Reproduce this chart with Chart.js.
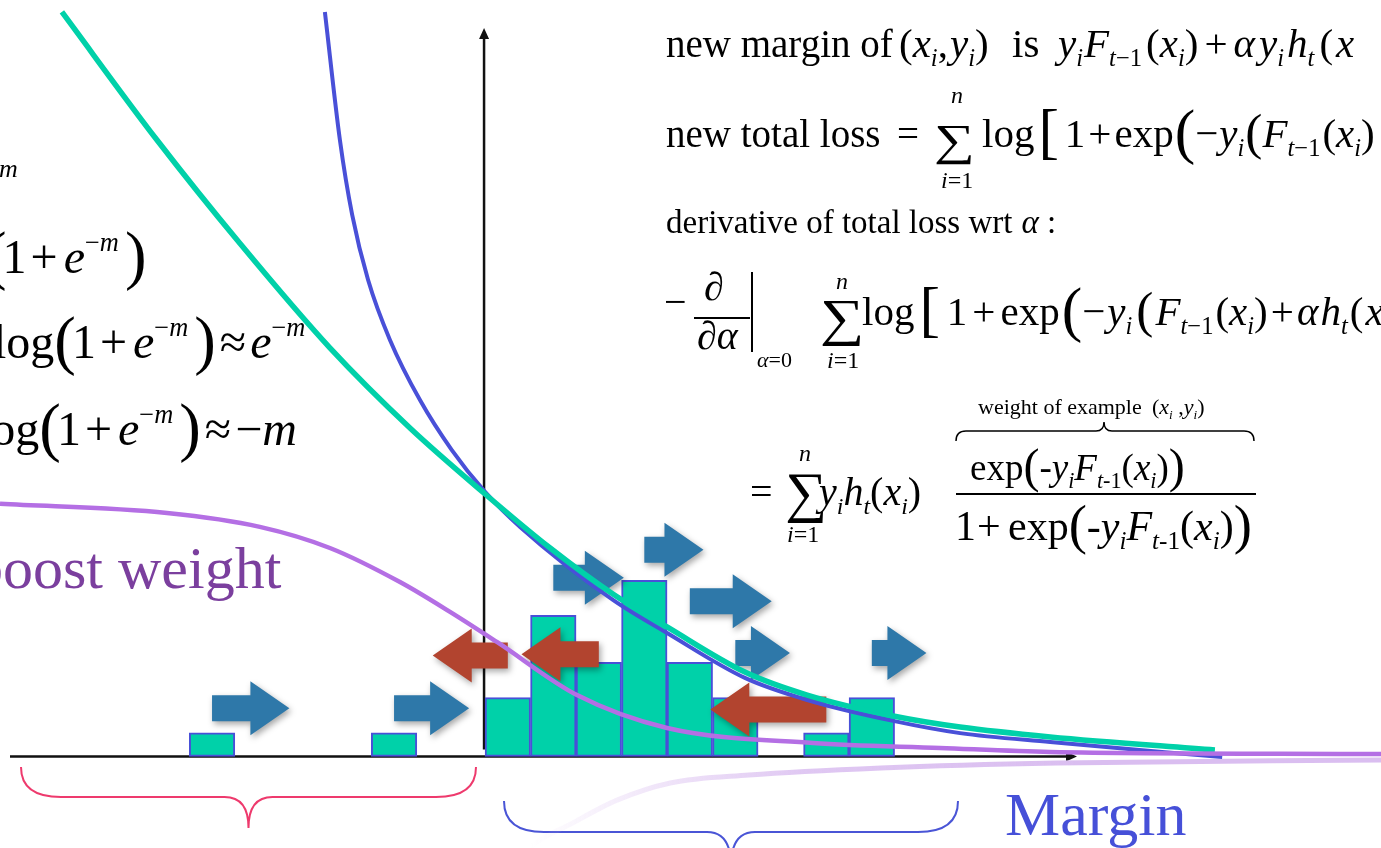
<!DOCTYPE html>
<html>
<head>
<meta charset="utf-8">
<script src="https://cdn.jsdelivr.net/npm/chart.js@4.4.1/dist/chart.umd.min.js"></script>
<style>
  html, body { margin: 0; padding: 0; background: #fff; overflow: hidden; }
  canvas { display: block; }
</style>
</head>
<body>
<canvas id="chart" width="1381" height="848"></canvas>
<script>
// histogram of margins (bin centre, count)
const binCentres = [-6, -2, 0.5, 1.5, 2.5, 3.5, 4.5, 5.5, 7.5, 8.5];
const binCounts = [1, 1, 2.5, 6, 4, 7.5, 4, 2.5, 1, 2.5];

// logistic loss curve
const logLossX = [-9.3, -7.21, -5.38, -3.41, -1.65, 0, 1.43, 2.81, 4.0, 5.71, 7.08, 8.97, 10.44, 12.42, 16.04];
const logLossY = [31.69, 26.24, 21.82, 17.39, 13.98, 11.17, 8.87, 6.91, 5.51, 3.59, 2.61, 1.72, 1.25, 0.83, 0.27];

// exponential loss curve
const expLossX = [-3.52, -3.19, -2.92, -2.57, -2.09, -1.43, -0.73, 0, 0.77, 2.81, 4.0, 5.71, 7.08, 8.97, 10.44, 12.42, 16.2];
const expLossY = [31.69, 26.24, 23.05, 20.28, 17.73, 15.17, 13.04, 11.26, 9.77, 6.66, 5.25, 3.34, 2.4, 1.51, 0.99, 0.61, -0.03];

// example weight curve
const weightX = [-10.66, -6.99, -4.95, -3.41, -1.87, -0.77, 0.26, 2.02, 4.0, 7.21, 10.0, 12.42, 19.69];
const weightY = [10.75, 10.36, 9.77, 8.87, 7.42, 6.15, 4.87, 2.61, 1.21, 0.57, 0.36, 0.19, 0.1];

// faded mirror of the weight curve under the axis
const mirrorX = [0.75, 0.97, 1.93, 2.9, 4.07, 5.8, 8.7, 12.57, 19.69];
const mirrorY = [-4.4, -3.9, -2.83, -1.86, -1.13, -0.79, -0.49, -0.28, -0.15];

// how examples move: start margin, new margin, drawing level
const arrowFrom = [-6, -2, 1.5, 3.5, 4.5, 5.5, 8.5, 0.5, 2.5, 7.5];
const arrowTo = [-4.3, -0.35, 3.05, 4.8, 6.3, 6.7, 9.7, -1.15, 0.8, 4.95];
const arrowLevel = [2.05, 2.05, 7.6, 8.8, 6.6, 4.4, 4.4, 4.3, 4.35, 2.0];

const SERIF = '"Liberation Serif", "Times New Roman", serif';
const TEAL = '#00D1A9';
const BLUE = '#4950D8';
const PURPLE = '#B46FE4';

const pts = (xs, ys) => xs.map((x, i) => ({ x, y: ys[i] }));

// --- tiny inline math typesetter ---
const r = (t, o) => Object.assign({ t }, o);
const it = (t, o) => Object.assign({ t, italic: true }, o);
const sub = (t) => ({ t, italic: true, scale: 0.6, dy: 0.22 });
const subr = (t) => ({ t, scale: 0.6, dy: 0.22 });
const sup = (t, italic) => ({ t, italic, scale: 0.55, dy: -0.45 });
const big = (t, s) => ({ t, scale: s, delim: true });
const at = (x) => ({ at: x });
const gap = (g) => ({ gap: g });

function typeset(ctx, x, y, base, parts) {
  for (const p of parts) {
    if (p.at !== undefined) x = p.at;
    if (p.gap) x += p.gap;
    if (!p.t) continue;
    const s = p.scale || 1;
    const sx = p.sx || 1;
    ctx.font = (p.italic ? 'italic ' : '') + (base * s) + 'px ' + SERIF;
    let dy = (p.dy || 0) * base;
    if (p.delim) dy = (0.24 * s - 0.25) * base;
    ctx.save();
    ctx.translate(x, y + dy);
    ctx.scale(sx, 1);
    ctx.fillText(p.t, 0, 0);
    ctx.restore();
    x += ctx.measureText(p.t).width * sx;
  }
  return x;
}

// summation sign with its limits
function sigma(ctx, x, y, size, sx, top, bottom) {
  typeset(ctx, x, y, size, [r('∑', { sx })]);
  typeset(ctx, top[0], top[1], 24, [it('n')]);
  typeset(ctx, bottom[0], bottom[1], 24, [it('i'), r('=1')]);
}

function brace(ctx, x0, x1, y0, y1, tipY, color, width) {
  const mid = (x0 + x1) / 2;
  const c = 40;
  ctx.save();
  ctx.strokeStyle = color;
  ctx.lineWidth = width;
  ctx.beginPath();
  ctx.moveTo(x0, y0);
  ctx.quadraticCurveTo(x0, y1, x0 + c, y1);
  ctx.lineTo(mid - c * 0.6, y1);
  ctx.quadraticCurveTo(mid, y1, mid, tipY);
  ctx.quadraticCurveTo(mid, y1, mid + c * 0.6, y1);
  ctx.lineTo(x1 - c, y1);
  ctx.quadraticCurveTo(x1, y1, x1, y0);
  ctx.stroke();
  ctx.restore();
}

function blockArrow(ctx, x0, x1, y, color) {
  const dir = Math.sign(x1 - x0);
  const shaft = 13, head = 27, headLen = 39;
  const xb = x1 - dir * headLen;
  ctx.save();
  ctx.fillStyle = color;
  ctx.shadowColor = 'rgba(0,0,0,0.35)';
  ctx.shadowBlur = 6;
  ctx.shadowOffsetX = 2;
  ctx.shadowOffsetY = 3;
  ctx.beginPath();
  ctx.moveTo(x0, y - shaft);
  ctx.lineTo(xb, y - shaft);
  ctx.lineTo(xb, y - head);
  ctx.lineTo(x1, y);
  ctx.lineTo(xb, y + head);
  ctx.lineTo(xb, y + shaft);
  ctx.lineTo(x0, y + shaft);
  ctx.closePath();
  ctx.fill();
  ctx.restore();
}

// axes with arrow heads, formulas and labels
const backdrop = {
  id: 'backdrop',
  beforeDatasetsDraw(chart) {
    const ctx = chart.ctx;
    const xs = chart.scales.x, ys = chart.scales.y;
    const ox = xs.getPixelForValue(0), oy = ys.getPixelForValue(0);
    ctx.save();
    ctx.strokeStyle = '#111';
    ctx.fillStyle = '#111';
    ctx.lineWidth = 2.5;
    ctx.beginPath();
    ctx.moveTo(10, oy); ctx.lineTo(1068, oy);
    ctx.moveTo(ox - 1, oy - 7); ctx.lineTo(ox - 1, 37);
    ctx.stroke();
    ctx.beginPath();
    ctx.moveTo(1077, oy); ctx.lineTo(1066, oy - 5); ctx.lineTo(1066, oy + 5); ctx.closePath();
    ctx.moveTo(ox - 1, 28); ctx.lineTo(ox - 6, 39); ctx.lineTo(ox + 4, 39); ctx.closePath();
    ctx.fill();

    // braces under the axis
    brace(ctx, 21, 476, 767, 797, 828, '#EE3A6D', 2);
    brace(ctx, 504, 958, 801, 832, 866, '#4A55D6', 2);

    ctx.fillStyle = '#000';
    ctx.textBaseline = 'alphabetic';

    // left column (cut at the edge)
    typeset(ctx, -1, 177, 26, [it('m')]);
    const negM = [sup('−'), sup('m', true)];
    const L = [big('(', 1.35), gap(-4), r('1'), gap(4), r('+'), gap(6), it('e')].concat(negM, [gap(6), big(')', 1.35)]);
    typeset(ctx, -15, 273, 48, L);
    typeset(ctx, -7, 358, 48, [r('log')].concat(L, [gap(4), r('≈'), gap(4), it('e')], negM));
    typeset(ctx, -22, 445, 48, [r('log')].concat(L, [gap(4), r('≈'), gap(4), r('−'), it('m')]));

    // right column
    typeset(ctx, 666, 57, 39, [r('new margin of')]);
    typeset(ctx, 899, 57, 41, [
      r('('), it('x'), sub('i'), r(','), gap(2), it('y'), sub('i'), r(')'),
      at(1012), r('is'),
      at(1058), it('y'), sub('i'), gap(1), it('F'), sub('t'), subr('−1'), gap(4), r('('), it('x'), sub('i'), r(')'),
      gap(6), r('+'), gap(6), it('α'), gap(4), it('y'), sub('i'), gap(3), it('h'), sub('t'), gap(5), r('('), gap(3), it('x')
    ]);

    typeset(ctx, 666, 147, 39, [r('new total loss'), at(897), r('=')]);
    sigma(ctx, 934, 155, 44, 1.3, [951, 103], [941, 188]);
    typeset(ctx, 982, 147, 41, [
      r('log'), gap(4), big('[', 1.5), gap(6), r('1'), gap(3), r('+'), gap(3), r('exp'), gap(1),
      big('(', 1.5), r('−'), gap(1), it('y'), sub('i'), gap(1),
      big('(', 1.25), it('F'), sub('t'), subr('−1'), gap(2), r('('), it('x'), sub('i'), r(')')
    ]);

    typeset(ctx, 666, 233, 33, [r('derivative of total loss wrt'), gap(9), it('α'), r(' :')]);

    // - d/dalpha at alpha = 0
    typeset(ctx, 664, 315, 40, [r('−')]);
    typeset(ctx, 704, 300, 40, [r('∂')]);
    typeset(ctx, 697, 349, 40, [r('∂'), it('α')]);
    ctx.fillRect(694, 317, 56, 2);
    ctx.fillRect(751, 272, 2, 80);
    typeset(ctx, 757, 367, 22, [it('α'), r('=0')]);
    sigma(ctx, 820, 335, 52, 1.2, [836, 289], [827, 368]);
    typeset(ctx, 862, 325, 41, [
      r('log'), gap(5), big('[', 1.5), gap(7), r('1'), gap(5), r('+'), gap(5), r('exp'), gap(2),
      big('(', 1.5), r('−'), gap(2), it('y'), sub('i'), gap(4),
      big('(', 1.25), gap(2), it('F'), sub('t'), subr('−1'), gap(2), r('('), it('x'), sub('i'), r(')'),
      gap(3), r('+'), gap(3), it('α'), gap(2), it('h'), sub('t'), gap(2), r('('), gap(2), it('x')
    ]);

    // weight of an example, with overbrace
    typeset(ctx, 978, 414, 22, [r('weight of example'), at(1152), r('('), it('x'), sub('i'), r(' ,'), it('y'), sub('i'), r(')')]);
    ctx.save();
    ctx.strokeStyle = '#000';
    ctx.lineWidth = 1.5;
    ctx.beginPath();
    ctx.moveTo(956, 441); ctx.quadraticCurveTo(956, 431, 966, 431);
    ctx.lineTo(1096, 431); ctx.quadraticCurveTo(1104, 431, 1104, 422);
    ctx.quadraticCurveTo(1104, 431, 1112, 431);
    ctx.lineTo(1244, 431); ctx.quadraticCurveTo(1254, 431, 1254, 441);
    ctx.stroke();
    ctx.restore();

    typeset(ctx, 750, 505, 40, [r('=')]);
    sigma(ctx, 785, 511, 56, 1.05, [799, 461], [787, 542]);
    typeset(ctx, 819, 505, 40, [it('y'), sub('i'), it('h'), sub('t'), r('('), it('x'), sub('i'), r(')')]);
    typeset(ctx, 970, 480, 37, [
      r('exp'), big('(', 1.3), r('-'), it('y'), sub('i'), it('F'), sub('t'), subr('-1'), r('('), it('x'), sub('i'), r(')'), big(')', 1.3)
    ]);
    ctx.fillRect(956, 493, 300, 2);
    typeset(ctx, 955, 540, 42, [
      r('1'), at(977), r('+'), at(1008), r('exp'), big('(', 1.3), r('-'), it('y'), sub('i'), it('F'), sub('t'), subr('-1'),
      r('('), it('x'), sub('i'), r(')'), big(')', 1.3)
    ]);

    // labels
    ctx.fillStyle = '#7B3F9E';
    ctx.font = '60px ' + SERIF;
    ctx.fillText('boost weight', -27, 588);
    ctx.fillStyle = '#4650D8';
    ctx.font = '62px ' + SERIF;
    ctx.fillText('Margin', 1005, 835);
    ctx.restore();
  },
  afterDatasetDraw(chart, args) {
    if (args.meta.type !== 'bar') return;
    const xs = chart.scales.x, ys = chart.scales.y;
    arrowFrom.forEach((m, i) => {
      const x0 = xs.getPixelForValue(m);
      const x1 = xs.getPixelForValue(arrowTo[i]);
      const y = ys.getPixelForValue(arrowLevel[i]);
      blockArrow(chart.ctx, x0, x1, y, arrowTo[i] > m ? '#2E78A9' : '#B2442F');
    });
  }
};

// mirror line fades out towards the left
function mirrorColor(context) {
  const chart = context.chart;
  const xs = chart.scales.x;
  const a = xs ? xs.getPixelForValue(1) : NaN;
  const b = xs ? xs.getPixelForValue(13) : NaN;
  if (!isFinite(a) || !isFinite(b)) return 'rgba(218,190,240,0.8)';
  const g = chart.ctx.createLinearGradient(a, 0, b, 0);
  g.addColorStop(0, 'rgba(218,190,240,0)');
  g.addColorStop(0.5, 'rgba(218,190,240,0.85)');
  g.addColorStop(1, 'rgba(218,190,240,1)');
  return g;
}

new Chart(document.getElementById('chart'), {
  data: {
    datasets: [
      { type: 'line', label: 'weight', data: pts(weightX, weightY), borderColor: PURPLE, borderWidth: 4.5, order: 1 },
      { type: 'line', label: 'logistic loss', data: pts(logLossX, logLossY), borderColor: TEAL, borderWidth: 5.5, borderCapStyle: 'butt', order: 2 },
      { type: 'line', label: 'exponential loss', data: pts(expLossX, expLossY), borderColor: BLUE, borderWidth: 4, order: 3 },
      { type: 'line', label: 'mirror', data: pts(mirrorX, mirrorY), borderColor: mirrorColor, borderWidth: 5, order: 4 },
      {
        type: 'bar', label: 'margins', data: pts(binCentres, binCounts),
        backgroundColor: TEAL, borderColor: BLUE, borderWidth: 2, borderSkipped: false,
        barPercentage: 1, categoryPercentage: 1, order: 5
      }
    ]
  },
  options: {
    responsive: false,
    animation: false,
    devicePixelRatio: 1,
    layout: { padding: 0 },
    elements: {
      point: { radius: 0, hoverRadius: 0 },
      line: { cubicInterpolationMode: 'monotone', fill: false }
    },
    scales: {
      x: {
        type: 'linear', min: -10.66, max: 19.69, display: false, offset: false,
        afterBuildTicks: (axis) => { axis.ticks = [{ value: axis.min }, { value: axis.max }]; }
      },
      y: { type: 'linear', min: -3.9, max: 32.2, display: false }
    },
    plugins: {
      legend: { display: false },
      tooltip: { enabled: false }
    }
  },
  plugins: [backdrop]
});
</script>
</body>
</html>
